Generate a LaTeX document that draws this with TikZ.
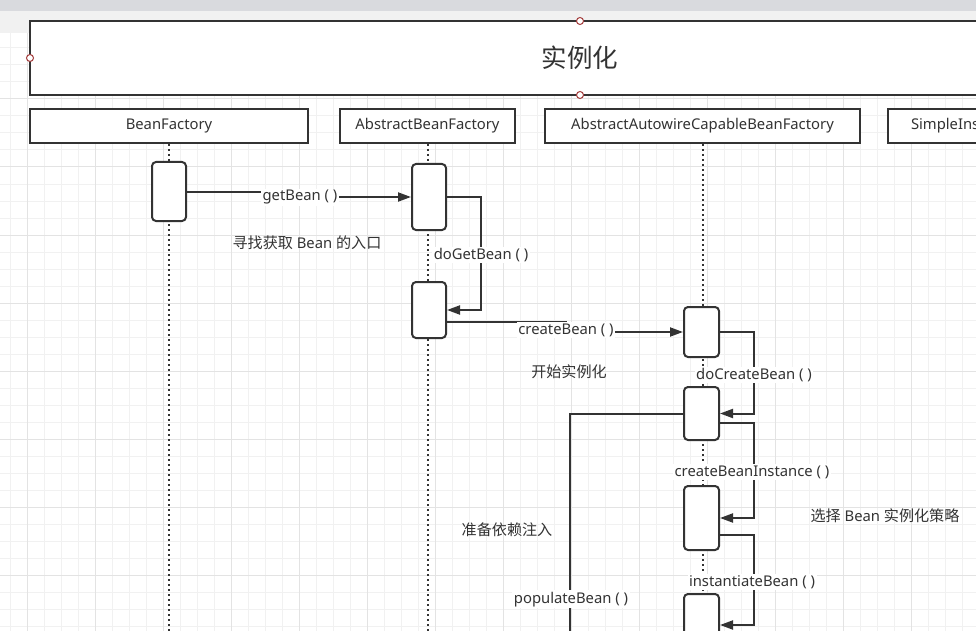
\documentclass[tikz,border=0pt]{standalone}
\usepackage{fontspec}
\setmainfont{Noto Sans}
\newfontfamily\cjk[Scale=1.02]{Noto Sans CJK SC}
\usetikzlibrary{arrows.meta,calc}
\definecolor{ink}{HTML}{333333}
\definecolor{topgray}{HTML}{D9DADE}
\definecolor{toplight}{HTML}{F1F1F1}
\definecolor{gridmin}{HTML}{F1F1F1}
\definecolor{gridmaj}{HTML}{E3E3E3}
\definecolor{handle}{HTML}{A33A3A}
\tikzset{
  hdr/.style={draw=ink, line width=2pt, fill=white, minimum height=34pt, text=ink, font=\fontsize{14.8}{16}\selectfont, inner sep=0pt},
  act/.style={draw=ink, line width=2pt, fill=white, rounded corners=4pt, minimum width=34pt, inner sep=0pt},
  lifeline/.style={draw=ink, line width=2.2pt, dash pattern=on 2pt off 3pt},
  msg/.style={draw=ink, line width=2pt, -{Triangle[length=13pt,width=9pt]}},
  plain/.style={draw=ink, line width=2pt},
  lbl/.style={fill=white, inner sep=1.5pt, text=ink, font=\fontsize{14.8}{16}\selectfont},
  txt/.style={inner sep=0pt, text=ink, font=\fontsize{14.8}{16}\selectfont},
  hnd/.style={circle, draw=handle, fill=white, line width=1pt, minimum size=7pt, inner sep=0pt},
}
\begin{document}
\begin{tikzpicture}[x=1pt,y=-1pt]
\useasboundingbox (0,0) rectangle (976,631);
\clip (0,0) rectangle (976,631);
\fill[white] (0,0) rectangle (976,631);
\fill[topgray] (0,0) rectangle (976,11);
\fill[toplight] (0,11) rectangle (976,33);
% grid
\foreach \k in {-1,...,56} {
  \pgfmathsetmacro\xx{27.3+17*\k}
  \draw[gridmin, line width=1pt] (\xx,33) -- (\xx,631);
}
\foreach \k in {1,...,35} {
  \pgfmathsetmacro\yy{31+17*\k}
  \draw[gridmin, line width=1pt] (0,\yy) -- (976,\yy);
}
\foreach \k in {0,...,14} {
  \pgfmathsetmacro\xx{27.3+68*\k}
  \draw[gridmaj, line width=1pt] (\xx,33) -- (\xx,631);
}
\foreach \k in {1,...,9} {
  \pgfmathsetmacro\yy{31+68*\k}
  \draw[gridmaj, line width=1pt] (0,\yy) -- (976,\yy);
}
% title
\node[draw=ink, line width=2pt, fill=white, minimum width=1100pt, minimum height=74pt, text=ink, font=\cjk\fontsize{25}{28}\selectfont] (title) at (580,58) {实例化};
\node[hnd] (h1) at (580,21) {};
\node[hnd] (h2) at (30,58) {};
\node[hnd] (h3) at (580,95) {};
% headers
\node[hdr, minimum width=278pt] (bf) at (169,126) {\raisebox{-1.2pt}{BeanFactory}};
\node[hdr, minimum width=175pt] (abf) at (427.5,126) {\raisebox{-1.2pt}{AbstractBeanFactory}};
\node[hdr, minimum width=315pt] (aacbf) at (702.5,126) {\raisebox{-1.2pt}{AbstractAutowireCapableBeanFactory}};
\node[hdr, minimum width=244pt, text width=198pt, align=left] (sis) at (1010,126) {\raisebox{-1.2pt}{SimpleIns}};
% lifeline ends
\coordinate (bfend) at (169,640);
\coordinate (abfend) at (428,640);
\coordinate (aacend) at (703,640);
\draw[lifeline] (bf.south) -- (bfend);
\draw[lifeline] (abf.south -| abfend) -- (abfend);
\draw[lifeline] (aacbf.south -| aacend) -- (aacend);
% activations
\node[act, minimum height=59pt] (a1) at (169,191.5) {};
\node[act, minimum height=66pt] (b1) at (429,197) {};
\node[act, minimum height=56pt] (b2) at (429,310) {};
\node[act, minimum height=50pt, minimum width=35pt] (c1) at (701.5,332) {};
\node[act, minimum height=53pt, minimum width=35pt] (c2) at (701.5,413.5) {};
\node[act, minimum height=64pt, minimum width=35pt] (c3) at (701.5,518) {};
\node[act, minimum height=66pt, minimum width=35pt] (c4) at (701.5,627) {};
% messages
\draw[msg] (a1.east) -- (300,191.5) -- (300,197) -- (b1.west);
\node[lbl] (l1) at (300,197.2) {getBean ( )};
\draw[msg] (b1.east) -- ++(34,0) |- (b2.east);
\node[lbl] (l2) at (481,255.2) {doGetBean ( )};
\draw[msg] ([yshift=-12pt]b2.east) -- (566,322) -- (566,332) -- (c1.west);
\node[lbl] (l3) at (566,330.2) {createBean ( )};
\draw[msg] (c1.east) -- ++(34,0) |- (c2.east);
\node[lbl] (l4) at (754,375.2) {doCreateBean ( )};
\draw[msg] ([yshift=-9.5pt]c2.east) -- ++(34,0) |- (c3.east);
\node[lbl] (l5) at (752,472.2) {createBeanInstance ( )};
\draw[msg] ([yshift=-17pt]c3.east) -- ++(34,0) |- ([yshift=2pt]c4.east);
\node[lbl] (l6) at (752,582.2) {instantiateBean ( )};
\coordinate (popend) at (570,650);
\draw[plain] (c2.west) -| (popend);
\node[lbl] (l7) at (571,599.2) {populateBean ( )};
% notes
\node[txt] (t1) at (307,242.5) {{\cjk 寻找获取} Bean {\cjk 的入口}};
\node[txt] (t2) at (569,371.5) {\cjk 开始实例化};
\node[txt] (t3) at (885,515.5) {{\cjk 选择} Bean {\cjk 实例化策略}};
\node[txt] (t4) at (507,529.5) {\cjk 准备依赖注入};
\end{tikzpicture}
\end{document}
